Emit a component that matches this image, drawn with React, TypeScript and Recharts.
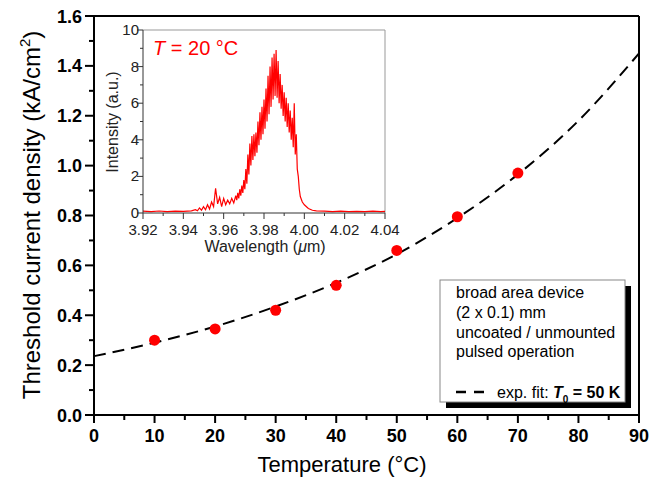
import React from 'react';
import { ComposedChart, Line, Scatter, XAxis, YAxis, ReferenceLine } from 'recharts';

// threshold current density vs. heat-sink temperature
const temperatures = [10, 20, 30, 40, 50, 60, 70];
const thresholdDensity = [0.3, 0.345, 0.42, 0.52, 0.66, 0.795, 0.97];

// exponential fit (T0 = 50 K)
const fitTemperatures = [0, 10, 20, 30, 40, 50, 60, 70, 80, 90];
const fitDensity = [0.236, 0.29, 0.355, 0.435, 0.53, 0.645, 0.79, 0.965, 1.18, 1.45];

const tempTicks = [0, 5, 10, 15, 20, 25, 30, 35, 40, 45, 50, 55, 60, 65, 70, 75, 80, 85, 90];
const densityTicks = [0, 0.1, 0.2, 0.3, 0.4, 0.5, 0.6, 0.7, 0.8, 0.9, 1.0, 1.1, 1.2, 1.3, 1.4, 1.5, 1.6];

// inset: emission spectrum at 20 °C (mode structure read as upper/lower envelope)
const wavelengths = [
  3.92, 3.924, 3.928, 3.932, 3.936, 3.94, 3.944,
  3.946, 3.947, 3.948, 3.949, 3.95, 3.951, 3.952, 3.953, 3.954, 3.955,
  3.956, 3.957, 3.958, 3.959, 3.96, 3.961, 3.962, 3.963, 3.964, 3.965,
  3.966, 3.9665, 3.967, 3.9675, 3.968, 3.9685, 3.969, 3.9695, 3.97, 3.9705,
  3.971, 3.9715, 3.972, 3.9725, 3.973, 3.9735, 3.974, 3.9745, 3.975, 3.9755,
  3.976, 3.9765, 3.977, 3.9775, 3.978, 3.9785, 3.979, 3.9795, 3.98, 3.9805,
  3.981, 3.9815, 3.982, 3.9825, 3.983, 3.9835, 3.984, 3.9845, 3.985, 3.9855,
  3.986, 3.9865, 3.987, 3.9875, 3.988, 3.9885, 3.989, 3.9895, 3.99, 3.9905,
  3.991, 3.9915, 3.992, 3.9925, 3.993, 3.9935, 3.994, 3.9945, 3.995, 3.9955,
  3.996, 3.9965, 3.997, 3.9975, 3.998, 3.999, 4.0,
  4.002, 4.004, 4.006, 4.01, 4.014, 4.018, 4.022, 4.026, 4.03, 4.034, 4.038, 4.04,
];
const intensities = [
  0.1, 0.08, 0.11, 0.07, 0.1, 0.09, 0.12,
  0.18, 0.12, 0.28, 0.15, 0.35, 0.18, 0.45, 0.22, 0.6, 0.35,
  1.35, 0.5, 0.85, 0.35, 0.8, 0.45, 0.7, 0.5, 0.8, 0.55,
  0.95, 0.7, 1.1, 0.8, 1.3, 0.95, 1.5, 1.1, 1.8, 1.3,
  2.4, 1.6, 3.2, 2.1, 3.8, 2.6, 4.2, 2.9, 4.3, 3.1,
  4.4, 3.3, 5.0, 3.7, 5.5, 4.0, 5.8, 4.3, 6.2, 4.6,
  6.8, 5.0, 7.5, 5.4, 8.0, 5.8, 8.5, 6.2, 8.7, 6.4,
  8.9, 6.3, 8.3, 6.0, 7.6, 5.7, 7.0, 5.3, 6.6, 5.0,
  6.3, 4.7, 6.0, 4.4, 5.6, 4.0, 5.2, 3.6, 6.0, 3.2,
  4.3, 2.4, 2.0, 1.3, 0.9, 0.6, 0.45,
  0.25, 0.15, 0.12, 0.1, 0.08, 0.1, 0.07, 0.09, 0.08, 0.1, 0.08, 0.09,
];
const wavelengthTicks = [3.92, 3.93, 3.94, 3.95, 3.96, 3.97, 3.98, 3.99, 4.0, 4.01, 4.02, 4.03, 4.04];
const intensityTicks = [0, 1, 2, 3, 4, 5, 6, 7, 8, 9, 10];

const points = temperatures.map((t, i) => ({ t, j: thresholdDensity[i] }));
const fit = fitTemperatures.map((t, i) => ({ t, j: fitDensity[i] }));
const spectrum = wavelengths.map((w, i) => ({ w, v: intensities[i] }));

const FONT = '"Liberation Sans", Arial, Helvetica, sans-serif';

const TempTick = ({ x, y, payload }: any) => {
  const major = payload.value % 10 === 0;
  return (
    <g>
      <line x1={x} x2={x} y1={y} y2={y + (major ? 8 : 5)} stroke="#000" strokeWidth={2} />
      {major && (
        <text x={x} y={y + 27} textAnchor="middle" fontSize={18} fontWeight="bold" fill="#000">
          {payload.value}
        </text>
      )}
    </g>
  );
};

const DensityTick = ({ x, y, payload }: any) => {
  const major = Math.round(payload.value * 10) % 2 === 0;
  return (
    <g>
      <line x1={x - (major ? 9 : 5)} x2={x} y1={y} y2={y} stroke="#000" strokeWidth={2} />
      {major && (
        <text x={x - 12} y={y + 6.5} textAnchor="end" fontSize={18} fontWeight="bold" fill="#000">
          {payload.value.toFixed(1)}
        </text>
      )}
    </g>
  );
};

const WaveTick = ({ x, y, payload, index }: any) => {
  const major = index % 2 === 0;
  return (
    <g>
      <line x1={x} x2={x} y1={y} y2={y + (major ? 6 : 3)} stroke="#333" strokeWidth={1} />
      {major && (
        <text x={x} y={y + 22} textAnchor="middle" fontSize={15} fill="#222">
          {payload.value.toFixed(2)}
        </text>
      )}
    </g>
  );
};

const IntensityTick = ({ x, y, payload }: any) => {
  const major = payload.value % 2 === 0;
  return (
    <g>
      <line x1={x - (major ? 6 : 3)} x2={x} y1={y} y2={y} stroke="#333" strokeWidth={1} />
      {major && (
        <text x={x - 4} y={y + 5} textAnchor="end" fontSize={15} fill="#222">
          {payload.value}
        </text>
      )}
    </g>
  );
};

export default function App() {
  return (
    <div style={{ position: 'absolute', left: 0, top: 0, width: 657, height: 478, fontFamily: FONT, background: '#fff' }}>
      <ComposedChart width={657} height={478} margin={{ top: 16, right: 18, left: 0, bottom: 0 }}>
        <XAxis
          dataKey="t"
          type="number"
          domain={[0, 90]}
          ticks={tempTicks}
          interval={0}
          height={63}
          tickSize={0}
          tickMargin={0}
          tickLine={false}
          axisLine={{ stroke: '#000', strokeWidth: 2 }}
          tick={<TempTick />}
        />
        <YAxis
          type="number"
          domain={[0, 1.6]}
          ticks={densityTicks}
          interval={0}
          width={94}
          tickSize={0}
          tickMargin={0}
          tickLine={false}
          axisLine={{ stroke: '#000', strokeWidth: 2 }}
          tick={<DensityTick />}
        />
        <ReferenceLine y={1.6} stroke="#000" strokeWidth={2} />
        <ReferenceLine x={90} stroke="#000" strokeWidth={2} />
        <Line
          data={fit}
          dataKey="j"
          type="monotone"
          stroke="#000"
          strokeWidth={2}
          strokeDasharray="12 7"
          dot={false}
          activeDot={false}
          isAnimationActive={false}
        />
        <Scatter
          data={points}
          dataKey="j"
          fill="#ff0000"
          isAnimationActive={false}
          shape={(p: any) => <circle cx={p.cx} cy={p.cy} r={5.5} fill="#ff0000" />}
        />
      </ComposedChart>

      <div style={{ position: 'absolute', left: 97, top: 17 }}>
        <ComposedChart width={312} height={245} margin={{ top: 13, right: 24, left: 0, bottom: 0 }} data={spectrum}>
          <XAxis
            dataKey="w"
            type="number"
            domain={[3.92, 4.04]}
            ticks={wavelengthTicks}
            interval={0}
            height={49}
            tickSize={0}
            tickMargin={0}
            tickLine={false}
            axisLine={{ stroke: '#333', strokeWidth: 1 }}
            tick={<WaveTick />}
          />
          <YAxis
            type="number"
            domain={[0, 10]}
            ticks={intensityTicks}
            interval={0}
            width={46}
            tickSize={0}
            tickMargin={0}
            tickLine={false}
            axisLine={{ stroke: '#333', strokeWidth: 1 }}
            tick={<IntensityTick />}
          />
          <ReferenceLine y={10} stroke="#999" strokeWidth={1} />
          <ReferenceLine x={4.04} stroke="#999" strokeWidth={1} />
          <Line
            dataKey="v"
            type="linear"
            stroke="#ff0000"
            strokeWidth={1.2}
            dot={false}
            activeDot={false}
            isAnimationActive={false}
          />
        </ComposedChart>
      </div>

      <svg width={657} height={478} style={{ position: 'absolute', left: 0, top: 0, pointerEvents: 'none' }}>
        <text transform="translate(40,215) rotate(-90)" textAnchor="middle" fontSize={24} fill="#000">
          Threshold current density (kA/cm<tspan dy={-10} fontSize={15}>2</tspan>
          <tspan dy={10}>)</tspan>
        </text>
        <text x={342} y={472} textAnchor="middle" fontSize={22} fill="#000">
          Temperature (°C)
        </text>

        <text transform="translate(118,122) rotate(-90)" textAnchor="middle" fontSize={16} fill="#222">
          Intensity (a.u.)
        </text>
        <text x={265} y={252} textAnchor="middle" fontSize={16} fill="#222">
          Wavelength (<tspan fontStyle="italic">μ</tspan>m)
        </text>
        <text x={153} y={55} fontSize={20} fill="#ff0000">
          <tspan fontStyle="italic">T</tspan> = 20 °C
        </text>

        <rect x={446} y={286} width={185} height={122} fill="#000" />
        <rect x={440} y={280} width={185} height={122} fill="#fff" stroke="#888" strokeWidth={1} />
        <text x={456} y={298} fontSize={16} fill="#000">broad area device</text>
        <text x={456} y={318} fontSize={16} fill="#000">(2 x 0.1) mm</text>
        <text x={456} y={338} fontSize={16} fill="#000">uncoated / unmounted</text>
        <text x={456} y={357} fontSize={16} fill="#000">pulsed operation</text>
        <line x1={456} x2={485} y1={392} y2={392} stroke="#000" strokeWidth={2.5} strokeDasharray="10 8" />
        <text x={497} y={398} fontSize={16} fill="#000">
          exp. fit: <tspan fontWeight="bold" fontStyle="italic">T</tspan>
          <tspan fontSize={10} fontWeight="bold" dy={5}>0</tspan>
          <tspan fontWeight="bold" dy={-5}> = 50 K</tspan>
        </text>
      </svg>
    </div>
  );
}
